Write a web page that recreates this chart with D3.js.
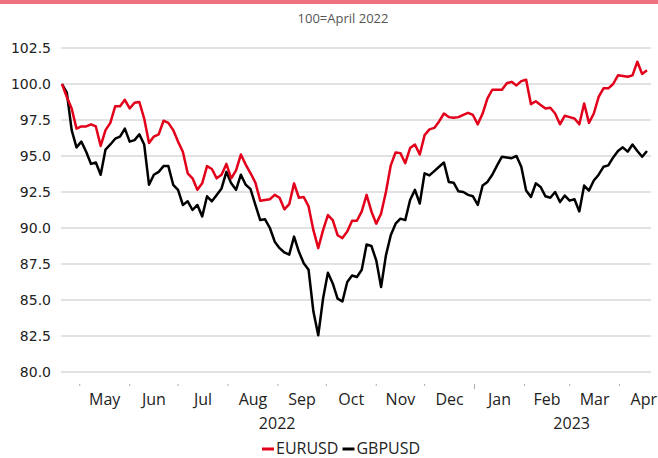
<!DOCTYPE html>
<html><head><meta charset="utf-8">
<script src="https://cdn.jsdelivr.net/npm/d3@7"></script>
<style>body{margin:0;background:#fff}svg{display:block}</style>
</head><body><svg id="c" width="658" height="458"></svg>
<script>
const title = "100=April 2022";
const seriesNames = ["EURUSD", "GBPUSD"];
const seriesColors = ["#e2001a", "#000000"];
const startDate = "2022-04-20";
const stepDays = 3;
const eurusd = [100.0, 99.1, 98.3, 96.9, 97.05, 97.05, 97.2, 97.05, 95.7, 96.8,
  97.3, 98.45, 98.45, 98.9, 98.3, 98.7, 98.75, 97.6, 95.9, 96.35,
  96.5, 97.45, 97.3, 96.8, 96.0, 95.3, 93.8, 93.45, 92.65, 93.1,
  94.3, 94.1, 93.45, 93.7, 94.45, 93.45, 94.0, 95.1, 94.4, 93.8,
  93.15, 91.9, 91.95, 92.0, 92.3, 92.1, 91.3, 91.65, 93.1, 92.1,
  92.15, 91.5, 89.85, 88.6, 89.85, 90.9, 90.55, 89.5, 89.3, 89.75,
  90.5, 90.5, 91.15, 92.3, 91.15, 90.3, 91.0, 92.5, 94.35, 95.25,
  95.2, 94.5, 95.55, 95.8, 95.1, 96.45, 96.85, 96.95, 97.4, 97.95,
  97.7, 97.65, 97.7, 97.85, 98.0, 97.85, 97.2, 97.95, 99.0, 99.6,
  99.6, 99.6, 100.05, 100.15, 99.9, 100.2, 100.3, 98.6, 98.8, 98.55,
  98.3, 98.35, 97.95, 97.2, 97.8, 97.7, 97.6, 97.2, 98.65, 97.3,
  97.95, 99.1, 99.7, 99.7, 100.0, 100.6, 100.55, 100.5, 100.6, 101.55,
  100.7, 100.95];
const gbpusd = [100.0, 99.4, 96.8, 95.6, 96.0, 95.3, 94.45, 94.55, 93.7, 95.45,
  95.8, 96.2, 96.35, 96.9, 96.0, 96.1, 96.5, 95.8, 93.0, 93.7,
  93.9, 94.3, 94.3, 93.0, 92.65, 91.6, 91.85, 91.25, 91.6, 90.8,
  92.2, 91.85, 92.3, 92.75, 93.9, 93.1, 92.65, 93.7, 93.0, 92.7,
  91.6, 90.55, 90.6, 90.0, 89.05, 88.6, 88.3, 88.15, 89.4, 88.35,
  87.55, 87.1, 84.2, 82.55, 85.1, 86.9, 86.15, 85.1, 84.9, 86.25,
  86.7, 86.6, 87.1, 88.85, 88.75, 87.75, 85.9, 88.1, 89.5, 90.3,
  90.65, 90.55, 91.95, 92.65, 91.7, 93.8, 93.65, 93.95, 94.25, 94.55,
  93.2, 93.15, 92.55, 92.5, 92.3, 92.2, 91.6, 92.95, 93.2, 93.7,
  94.35, 94.95, 94.9, 94.85, 95.0, 94.25, 92.6, 92.15, 93.1, 92.85,
  92.2, 92.1, 92.5, 91.8, 92.25, 91.9, 92.0, 91.15, 92.95, 92.6,
  93.3, 93.7, 94.25, 94.35, 94.9, 95.35, 95.6, 95.3, 95.8, 95.35,
  94.95, 95.35];
const yTicks = [80, 82.5, 85, 87.5, 90, 92.5, 95, 97.5, 100, 102.5];
const monthTicks = ["2022-05-01", "2022-06-01", "2022-07-01", "2022-08-01", "2022-09-01", "2022-10-01",
  "2022-11-01", "2022-12-01", "2023-01-01", "2023-02-01", "2023-03-01", "2023-04-01", "2023-05-01"];
const monthLabels = ["May", "Jun", "Jul", "Aug", "Sep", "Oct", "Nov", "Dec", "Jan", "Feb", "Mar", "Apr"];
const yearLabels = ["2022", "2023"];

const parse = d3.utcParse("%Y-%m-%d");
const t0 = parse(startDate);
const dates = eurusd.map((_, i) => d3.utcDay.offset(t0, i * stepDays));

const svg = d3.select("#c");
const x = d3.scaleUtc().domain([dates[0], dates[dates.length - 1]]).range([62, 647]);
const y = d3.scaleLinear().domain([80, 102.5]).range([372, 48]);

svg.append("rect").attr("x", 0).attr("y", 0).attr("width", 658).attr("height", 4).attr("fill", "#ef717d");

svg.append("text").attr("x", 343).attr("y", 23).attr("text-anchor", "middle")
  .attr("font-family", "Open Sans").attr("font-size", 13).attr("fill", "#555").text(title);

// grid
svg.append("g").selectAll("line").data(yTicks).join("line")
  .attr("x1", 61).attr("x2", 651).attr("y1", d => y(d)).attr("y2", d => y(d))
  .attr("stroke", "#d9d9d9").attr("stroke-width", 1.5);
svg.append("g").selectAll("text").data(yTicks).join("text")
  .attr("x", 51).attr("y", d => y(d)).attr("dy", "0.36em").attr("text-anchor", "end")
  .attr("font-family", "DejaVu Sans").attr("font-size", 14).attr("fill", "#222")
  .text(d3.format(".1f"));

// x ticks
const mt = monthTicks.map(parse);
svg.append("g").selectAll("line").data(mt.slice(0, 12)).join("line")
  .attr("x1", d => x(d)).attr("x2", d => x(d)).attr("y1", 384)
  .attr("y2", d => d.getUTCMonth() === 0 ? 389 : 386)
  .attr("stroke", "#aaa").attr("stroke-width", 1);
const centers = monthLabels.map((m, i) => (x(mt[i]) + x(mt[i + 1])) / 2);
svg.append("g").selectAll("text").data(monthLabels).join("text")
  .attr("x", (d, i) => centers[i]).attr("y", 405).attr("text-anchor", "middle")
  .attr("font-family", "Open Sans").attr("font-size", 16).attr("fill", "#222").text(d => d);
const yearCenters = yearLabels.map(yr => {
  const idx = mt.slice(0, 12).map((d, i) => [d, i]).filter(p => String(p[0].getUTCFullYear()) === yr).map(p => p[1]);
  return (centers[idx[0]] + centers[idx[idx.length - 1]]) / 2;
});
svg.append("g").selectAll("text").data(yearLabels).join("text")
  .attr("x", (d, i) => yearCenters[i]).attr("y", 429).attr("text-anchor", "middle")
  .attr("font-family", "Open Sans").attr("font-size", 16).attr("fill", "#222").text(d => d);

// lines
const line = d3.line().x((d, i) => x(dates[i])).y(d => y(d));
[gbpusd, eurusd].forEach((s, k) => {
  svg.append("path").datum(s).attr("d", line).attr("fill", "none")
    .attr("stroke", seriesColors[1 - k]).attr("stroke-width", 2.5).attr("stroke-linejoin", "round");
});

// legend
const lg = svg.append("g");
let lx = 262;
seriesNames.forEach((n, i) => {
  lg.append("line").attr("x1", lx).attr("x2", lx + 12).attr("y1", 449).attr("y2", 449)
    .attr("stroke", seriesColors[i]).attr("stroke-width", 3);
  const t = lg.append("text").attr("x", lx + 14).attr("y", 454).attr("font-family", "Open Sans")
    .attr("font-size", 16).attr("fill", "#222").text(n);
  lx += 14 + t.node().getComputedTextLength() + 4;
});
</script></body></html>
